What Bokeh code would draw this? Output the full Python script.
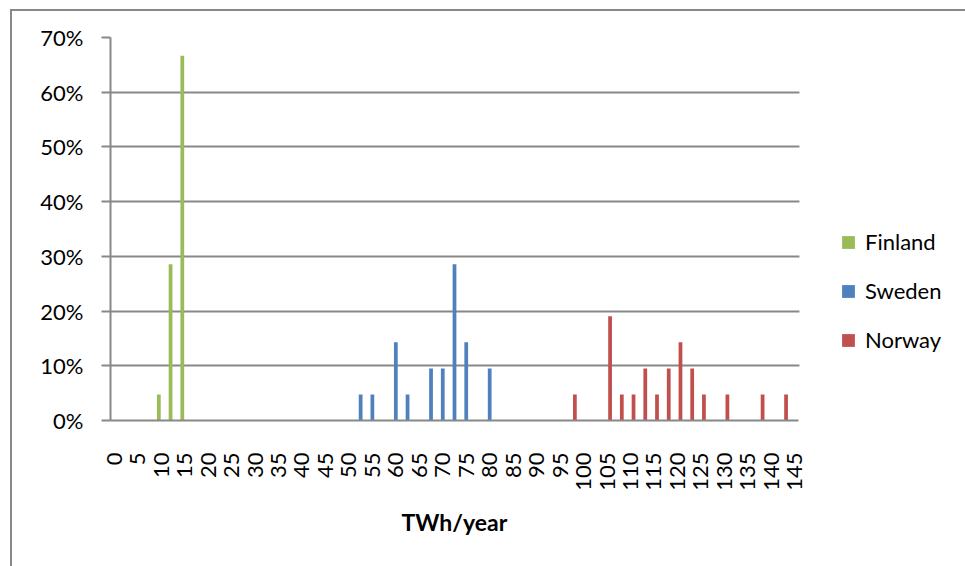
import math
from bokeh.plotting import figure
from bokeh.models import (ColumnDataSource, FixedTicker, NumeralTickFormatter, Legend,
                          LegendItem, Range1d, BoxAnnotation, Title)
from bokeh.transform import dodge
from bokeh.embed import file_html
from bokeh.resources import INLINE

# ---- data ----
finland_x = [10, 12.5, 15]
finland_share = [0.0476, 0.2857, 0.6667]

sweden_x = [52.5, 55, 60, 62.5, 67.5, 70, 72.5, 75, 80]
sweden_share = [0.0476, 0.0476, 0.1429, 0.0476, 0.0952, 0.0952, 0.2857, 0.1429, 0.0952]

norway_x = [97.5, 105, 107.5, 110, 112.5, 115, 117.5, 120, 122.5, 125, 130, 137.5, 142.5]
norway_share = [0.0476, 0.1905, 0.0476, 0.0476, 0.0952, 0.0476, 0.0952, 0.1429, 0.0952,
                0.0476, 0.0476, 0.0476, 0.0476]

x_ticks = [0, 5, 10, 15, 20, 25, 30, 35, 40, 45, 50, 55, 60, 65, 70, 75, 80, 85, 90, 95,
           100, 105, 110, 115, 120, 125, 130, 135, 140, 145]
y_ticks = [0, 0.1, 0.2, 0.3, 0.4, 0.5, 0.6, 0.7]

GREEN = "#9BBB59"
BLUE = "#4F81BD"
RED = "#C0504D"
GRAY = "#888888"
FONT = "Lato"

# visible plot area spans x in [X0, X1] over 688 px; the frame is extended to the
# right edge (to hold the legend) and that extra part is masked.
X0, X1 = -0.8, 145.8
PLOT_PX = 688
FRAME_PX = 965 - 110
x_end = X0 + (X1 - X0) * FRAME_PX / PLOT_PX

p = figure(width=965, height=566, output_backend="svg", toolbar_location=None,
           x_range=Range1d(X0, x_end), y_range=Range1d(0, 0.7),
           min_border_left=110, min_border_right=0, min_border_top=37,
           min_border_bottom=146)
p.outline_line_color = None
p.background_fill_color = "white"
p.border_fill_color = None
# outer chart-area border (left and top edges visible in the reference)
p.styles = {
    "background": ("linear-gradient(#888888,#888888) 10px 9px / 100% 2px no-repeat, "
                   "linear-gradient(#888888,#888888) 10px 9px / 2px 100% no-repeat, white"),
}

src_f = ColumnDataSource(dict(x=finland_x, top=finland_share))
src_s = ColumnDataSource(dict(x=sweden_x, top=sweden_share))
src_n = ColumnDataSource(dict(x=norway_x, top=norway_share))

bw = 0.8
rf = p.vbar(x=dodge("x", -0.5), top="top", bottom=0, width=bw, source=src_f,
            fill_color=GREEN, line_color=None)
rs = p.vbar(x="x", top="top", bottom=0, width=bw, source=src_s,
            fill_color=BLUE, line_color=None)
rn = p.vbar(x=dodge("x", 0.65), top="top", bottom=0, width=bw, source=src_n,
            fill_color=RED, line_color=None)

# axes
xa = p.xaxis[0]
xa.ticker = FixedTicker(ticks=x_ticks)
xa.bounds = (X0, X1)
xa.major_label_orientation = math.pi / 2
xa.major_label_text_font = FONT
xa.major_label_text_font_size = "22px"
xa.major_label_text_color = "black"
xa.major_label_standoff = 26
xa.major_tick_line_color = None
xa.minor_tick_line_color = None
xa.axis_line_color = GRAY
xa.axis_line_width = 2

# axis title, placed under the visible plot area
p.add_layout(Title(text="TWh/year", align="left", offset=291, text_font=FONT,
                   text_font_style="bold", text_font_size="23px", text_color="black",
                   standoff=25), "below")

ya = p.yaxis[0]
ya.ticker = FixedTicker(ticks=y_ticks)
ya.formatter = NumeralTickFormatter(format="0%")
ya.major_label_text_font = FONT
ya.major_label_text_font_size = "22px"
ya.major_label_text_color = "black"
ya.major_tick_out = 9
ya.major_tick_in = 0
ya.major_tick_line_color = GRAY
ya.major_tick_line_width = 2
ya.minor_tick_line_color = None
ya.axis_line_color = GRAY
ya.axis_line_width = 2
ya.major_label_standoff = 18

p.xgrid.grid_line_color = None
p.ygrid.grid_line_color = GRAY
p.ygrid.grid_line_width = 2
p.ygrid.ticker = FixedTicker(ticks=y_ticks)

# mask the extended part of the frame (right of the plot area)
mask = BoxAnnotation(left=X1 + 0.2, fill_color="white", fill_alpha=1, line_color=None)
p.add_layout(mask)

legend = Legend(items=[LegendItem(label="Finland", renderers=[rf]),
                       LegendItem(label="Sweden", renderers=[rs]),
                       LegendItem(label="Norway", renderers=[rn])],
                location=(730, 67), orientation="vertical")
legend.glyph_width = 16
legend.glyph_height = 16
legend.label_text_font = FONT
legend.label_text_font_size = "22px"
legend.label_text_color = "black"
legend.label_standoff = 9
legend.spacing = 22
legend.padding = 0
legend.margin = 0
legend.border_line_color = None
legend.background_fill_alpha = 0
p.add_layout(legend)

open("out.html", "w").write(file_html(p, INLINE))
